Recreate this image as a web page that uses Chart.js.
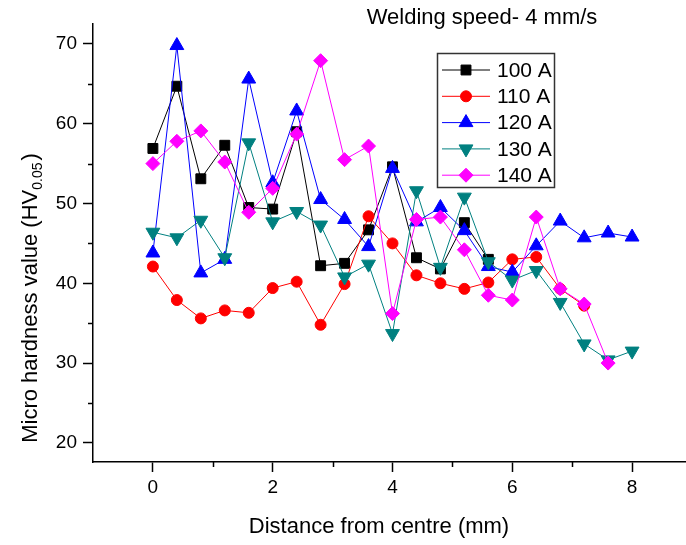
<!DOCTYPE html>
<html>
<head>
<meta charset="utf-8">
<script src="https://cdn.jsdelivr.net/npm/chart.js@4.4.0/dist/chart.umd.min.js"></script>
<style>
  html, body { margin: 0; padding: 0; background: #fff; }
  #wrap { width: 686px; height: 545px; }
</style>
</head>
<body>
<div id="wrap"><canvas id="hardnessChart" width="686" height="545"></canvas></div>
<script>
// distance from weld centre (mm)
var distances = [0, 0.4, 0.8, 1.2, 1.6, 2.0, 2.4, 2.8, 3.2, 3.6, 4.0, 4.4, 4.8, 5.2, 5.6, 6.0, 6.4, 6.8, 7.2, 7.6, 8.0];

// micro hardness readings per welding current
var hv100 = [56.9, 64.7, 53.1, 57.3, 49.5, 49.3, 59.0, 42.2, 42.5, 46.7, 54.6, 43.2, 41.8, 47.6, 43.0, null, null, null, null, null, null];
var hv110 = [42.1, 37.9, 35.6, 36.6, 36.3, 39.4, 40.2, 34.8, 39.9, 48.4, 45.0, 41.0, 40.0, 39.3, 40.1, 43.0, 43.3, 39.3, 37.2, null, null];
var hv120 = [43.8, 69.8, 41.3, 43.0, 65.6, 52.6, 61.6, 50.5, 48.0, 44.6, 54.4, 47.7, 49.5, 46.6, 42.1, 41.4, 44.7, 47.8, 45.7, 46.3, 45.8];
var hv130 = [46.4, 45.7, 47.9, 43.2, 57.6, 47.7, 49.0, 47.3, 40.8, 42.4, 33.7, 51.6, 42.0, 50.8, 42.7, 40.4, 41.6, 37.6, 32.4, 30.4, 31.5];
var hv140 = [55.0, 57.8, 59.1, 55.2, 48.9, 51.9, 58.7, 67.9, 55.5, 57.2, 36.2, 48.0, 48.3, 44.2, 38.5, 37.9, 48.3, 39.3, 37.4, 30.0, null];

var seriesNames = ['100 A', '110 A', '120 A', '130 A', '140 A'];

// axis ticks
var xTickValues = [0, 2, 4, 6, 8];
var xMinorTicks = [1, 3, 5, 7];
var yTickValues = [20, 30, 40, 50, 60, 70];
var yMinorTicks = [25, 35, 45, 55, 65];

var chartTitle = 'Welding speed- 4 mm/s';
var xTitle = 'Distance from centre (mm)';
var yTitleMain = 'Micro hardness value (HV';
var yTitleSub = '0.05';
var yTitleEnd = ')';

var FONT = "'Liberation Sans', Arial, sans-serif";

function toPoints(values) {
    var pts = [];
    for (var i = 0; i < distances.length; i++) {
        if (values[i] !== null) pts.push({ x: distances[i], y: values[i] });
    }
    return pts;
}

var styles = [
    { color: '#000000', point: 'rect', radius: 7, rotation: 0 },
    { color: '#FF0000', point: 'circle', radius: 5.5, rotation: 0 },
    { color: '#0000FF', point: 'triangle', radius: 8, rotation: 0 },
    { color: '#008080', point: 'triangle', radius: 8, rotation: 180 },
    { color: '#FF00FF', point: 'rectRot', radius: 7, rotation: 0 }
];

var allValues = [hv100, hv110, hv120, hv130, hv140];
var datasets = allValues.map(function (vals, i) {
    var s = styles[i];
    return {
        label: seriesNames[i],
        data: toPoints(vals),
        borderColor: s.color,
        backgroundColor: s.color,
        borderWidth: 1,
        pointStyle: s.point,
        pointRadius: s.radius,
        pointRotation: s.rotation,
        pointBorderWidth: 1,
        pointBackgroundColor: s.color,
        pointBorderColor: s.color,
        tension: 0,
        order: 5 - i
    };
});

function drawMarker(ctx, s, x, y) {
    ctx.fillStyle = s.color;
    ctx.strokeStyle = s.color;
    ctx.lineWidth = 1;
    if (Chart.helpers && Chart.helpers.drawPoint) {
        Chart.helpers.drawPoint(ctx, { pointStyle: s.point, radius: s.radius, rotation: s.rotation, borderWidth: 1 }, x, y);
        return;
    }
    ctx.beginPath();
    ctx.arc(x, y, s.radius, 0, Math.PI * 2);
    ctx.fill();
}

var decorPlugin = {
    id: 'decor',
    // stretch the x axis to the right edge of the canvas, like the original plot
    afterLayout: function (chart) {
        var xs = chart.scales.x;
        var right = chart.width;
        xs.right = right;
        xs.width = right - xs.left;
        chart.chartArea.right = right;
        chart.chartArea.width = right - chart.chartArea.left;
        xs.configure();
    },
    afterDraw: function (chart) {
        var ctx = chart.ctx;
        var xs = chart.scales.x, ys = chart.scales.y;
        var area = chart.chartArea;
        ctx.save();

        // minor ticks
        ctx.strokeStyle = '#000';
        ctx.lineWidth = 1.5;
        ctx.beginPath();
        xMinorTicks.forEach(function (v) {
            var px = Math.round(xs.getPixelForValue(v)) + 0.5;
            ctx.moveTo(px, area.bottom);
            ctx.lineTo(px, area.bottom + 5);
        });
        yMinorTicks.forEach(function (v) {
            var py = Math.round(ys.getPixelForValue(v)) + 0.5;
            ctx.moveTo(area.left, py);
            ctx.lineTo(area.left - 5, py);
        });
        ctx.stroke();

        // titles
        ctx.fillStyle = '#000';
        ctx.textBaseline = 'middle';
        ctx.textAlign = 'center';
        ctx.font = '22px ' + FONT;
        ctx.fillText(chartTitle, 482, 18);
        ctx.fillText(xTitle, 379, 527);

        // y title with subscript
        ctx.save();
        ctx.translate(31, 298);
        ctx.rotate(-Math.PI / 2);
        ctx.textAlign = 'left';
        ctx.font = '22px ' + FONT;
        var wMain = ctx.measureText(yTitleMain).width;
        var wEnd = ctx.measureText(yTitleEnd).width;
        ctx.font = '14px ' + FONT;
        var wSub = ctx.measureText(yTitleSub).width;
        var start = -(wMain + wSub + wEnd + 2) / 2;
        ctx.font = '22px ' + FONT;
        ctx.fillText(yTitleMain, start, 0);
        ctx.font = '14px ' + FONT;
        ctx.fillText(yTitleSub, start + wMain, 7);
        ctx.font = '22px ' + FONT;
        ctx.fillText(yTitleEnd, start + wMain + wSub + 2, 0);
        ctx.restore();

        // legend
        ctx.strokeStyle = '#333';
        ctx.lineWidth = 1.5;
        ctx.strokeRect(437.5, 53.5, 117, 134);
        ctx.font = '21px ' + FONT;
        ctx.textAlign = 'left';
        ctx.textBaseline = 'middle';
        chart.data.datasets.forEach(function (ds, i) {
            var y = 70 + i * 26.3;
            ctx.strokeStyle = ds.borderColor;
            ctx.lineWidth = 1;
            ctx.beginPath();
            ctx.moveTo(442, y);
            ctx.lineTo(490, y);
            ctx.stroke();
            drawMarker(ctx, styles[i], 466, y);
            ctx.fillStyle = '#000';
            ctx.fillText(ds.label, 497, y + 1);
        });

        ctx.restore();
    }
};

var axisCommon = {
    type: 'linear',
    grid: { drawOnChartArea: false, drawTicks: true, tickLength: 10, tickWidth: 1.5, tickColor: '#000' },
    border: { display: true, color: '#000', width: 1.5 },
    ticks: { color: '#000', font: { size: 19, family: FONT }, includeBounds: false, maxRotation: 0, autoSkip: false }
};

var ctx = document.getElementById('hardnessChart').getContext('2d');
var hardnessChart = new Chart(ctx, {
    type: 'line',
    data: { datasets: datasets },
    options: {
        responsive: false,
        animation: false,
        devicePixelRatio: 1,
        layout: { padding: { top: 24, right: 0, left: 0, bottom: 0 } },
        plugins: { legend: { display: false }, tooltip: { enabled: false }, title: { display: false } },
        scales: {
            x: Object.assign({}, axisCommon, {
                position: 'bottom',
                min: -1,
                max: 8.9,
                ticks: Object.assign({}, axisCommon.ticks, { padding: 4 }),
                afterBuildTicks: function (scale) {
                    scale.ticks = xTickValues.map(function (v) { return { value: v }; });
                },
                afterFit: function (scale) { scale.height = 83; }
            }),
            y: Object.assign({}, axisCommon, {
                position: 'left',
                min: 17.6,
                max: 72.5,
                ticks: Object.assign({}, axisCommon.ticks, { padding: 6 }),
                afterBuildTicks: function (scale) {
                    scale.ticks = yTickValues.map(function (v) { return { value: v }; });
                },
                afterFit: function (scale) { scale.width = 93; }
            })
        }
    },
    plugins: [decorPlugin]
});
</script>
</body>
</html>
